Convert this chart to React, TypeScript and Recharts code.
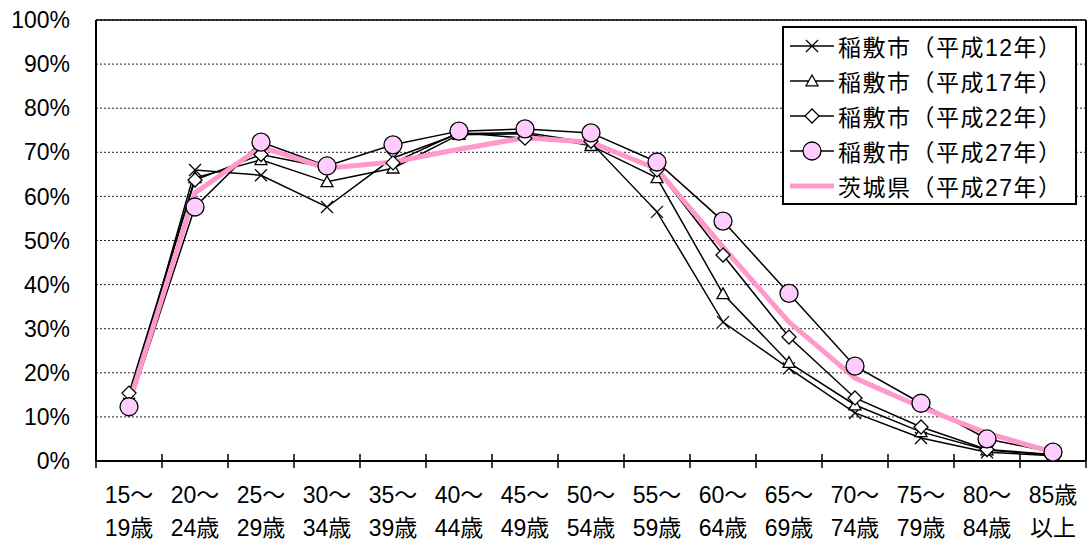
import {
  CartesianGrid,
  Line,
  LineChart,
  ReferenceLine,
  XAxis,
  YAxis,
} from 'recharts';

const tickTop = ['15～', '20～', '25～', '30～', '35～', '40～', '45～', '50～', '55～', '60～', '65～', '70～', '75～', '80～', '85歳'];
const tickBottom = ['19歳', '24歳', '29歳', '34歳', '39歳', '44歳', '49歳', '54歳', '59歳', '64歳', '69歳', '74歳', '79歳', '84歳', '以上'];

const h12 = [13, 66, 64.8, 57.6, 68.7, 74.2, 74.5, 72.2, 56.5, 31.5, 21, 10.9, 5.2, 2, 1.2];
const h17 = [14, 64.2, 68.3, 63.3, 66.4, 74, 74.2, 71.5, 64.2, 37.9, 22.3, 12.7, 6.6, 2.5, 1.3];
const h22 = [15.4, 63.7, 69.5, 66.5, 67.6, 74.5, 73.2, 72.5, 66, 46.7, 28.1, 14.3, 7.7, 2.6, 1.5];
const h27 = [12.3, 57.6, 72.3, 66.9, 71.7, 74.8, 75.3, 74.4, 67.8, 54.4, 38, 21.5, 13.1, 5, 2];
const ibaraki = [13, 60.8, 71.2, 66.4, 67.8, 70.7, 73.3, 72.3, 66.2, 48.5, 31.5, 18.8, 12.2, 6.3, 2];

const yTicks = [0, 10, 20, 30, 40, 50, 60, 70, 80, 90, 100];

const legendItems = [
  { label: '稲敷市（平成12年）', marker: 'cross' },
  { label: '稲敷市（平成17年）', marker: 'triangle' },
  { label: '稲敷市（平成22年）', marker: 'diamond' },
  { label: '稲敷市（平成27年）', marker: 'circle' },
  { label: '茨城県（平成27年）', marker: 'pink' },
];

const data = tickTop.map((_, i) => ({
  x: i + 0.5,
  h12: h12[i],
  h17: h17[i],
  h22: h22[i],
  h27: h27[i],
  ibaraki: ibaraki[i],
}));

const FONT = "'Liberation Sans', Arial, 'Noto Sans CJK JP', sans-serif";
const PINK = '#FF99CC';
const CIRCLE_FILL = '#FFCCFF';
const W = 1091;
const H = 543;
const PLOT_LEFT = 96;
const PLOT_RIGHT = 1086;
const BAND = (PLOT_RIGHT - PLOT_LEFT) / tickTop.length;

const Marker = ({ kind, cx, cy }: { kind: string; cx: number; cy: number }) => {
  if (kind === 'cross') {
    const s = 6;
    return (
      <g>
        <line x1={cx - s} y1={cy - s} x2={cx + s} y2={cy + s} stroke="#000" strokeWidth={1.3} />
        <line x1={cx - s} y1={cy + s} x2={cx + s} y2={cy - s} stroke="#000" strokeWidth={1.3} />
      </g>
    );
  }
  if (kind === 'triangle') {
    const s = 6;
    return (
      <polygon
        points={`${cx},${cy - s} ${cx + s},${cy + s * 0.8} ${cx - s},${cy + s * 0.8}`}
        fill="#fff"
        stroke="#000"
        strokeWidth={1.3}
      />
    );
  }
  if (kind === 'diamond') {
    const s = 7;
    return (
      <polygon
        points={`${cx},${cy - s} ${cx + s},${cy} ${cx},${cy + s} ${cx - s},${cy}`}
        fill="#fff"
        stroke="#000"
        strokeWidth={1.3}
      />
    );
  }
  if (kind === 'circle') {
    return <circle cx={cx} cy={cy} r={9} fill={CIRCLE_FILL} stroke="#000" strokeWidth={1.3} />;
  }
  return null;
};

const dotOf = (kind: string) => (props: any) => {
  const { cx, cy, index } = props;
  if (cx == null || cy == null) return <g key={index} />;
  return (
    <g key={index}>
      <Marker kind={kind} cx={cx} cy={cy} />
    </g>
  );
};

const XTick = (props: any) => {
  const { x, y, index } = props;
  return (
    <g>
      <line x1={x} x2={x} y1={y - 7} y2={y + 7} stroke="#000" strokeWidth={1.5} />
      {index < tickTop.length && (
        <text x={x + BAND / 2} y={y + 42} textAnchor="middle" fontSize={23} fontFamily={FONT} fill="#000">
          {tickTop[index]}
        </text>
      )}
      {index < tickTop.length && (
        <text x={x + BAND / 2} y={y + 75} textAnchor="middle" fontSize={23} fontFamily={FONT} fill="#000">
          {tickBottom[index]}
        </text>
      )}
    </g>
  );
};

const LegendBox = () => (
  <div
    style={{
      position: 'absolute',
      left: 782,
      top: 26,
      width: 291,
      border: '2px solid #000',
      background: '#fff',
      fontFamily: FONT,
      fontSize: 23,
      letterSpacing: 1.5,
      color: '#000',
    }}
  >
    {legendItems.map((item) => (
      <div key={item.label} style={{ height: 35, display: 'flex', alignItems: 'center' }}>
        <svg width={44} height={24} style={{ marginLeft: 6, marginRight: 4 }}>
          {item.marker === 'pink' ? (
            <line x1={1} x2={43} y1={12} y2={12} stroke={PINK} strokeWidth={5} strokeLinecap="round" />
          ) : (
            <line x1={0} x2={44} y1={12} y2={12} stroke="#000" strokeWidth={1.5} />
          )}
          <Marker kind={item.marker} cx={22} cy={12} />
        </svg>
        <span style={{ whiteSpace: 'nowrap' }}>{item.label}</span>
      </div>
    ))}
  </div>
);

export default function App() {
  return (
    <div style={{ position: 'absolute', left: 0, top: 0, width: W, height: H, background: '#fff' }}>
      <LineChart
        width={W}
        height={H}
        data={data}
        margin={{ top: 20, right: W - PLOT_RIGHT, bottom: 0, left: 0 }}
      >
        <CartesianGrid stroke="#222" strokeDasharray="2 2" vertical={false} />
        <XAxis
          dataKey="x"
          type="number"
          domain={[0, tickTop.length]}
          ticks={tickTop.map((_, i) => i).concat([tickTop.length])}
          interval={0}
          height={82}
          axisLine={{ stroke: '#000', strokeWidth: 2 }}
          tickLine={false}
          tickSize={0}
          tickMargin={0}
          tick={<XTick />}
        />
        <YAxis
          type="number"
          domain={[0, 100]}
          ticks={yTicks}
          width={PLOT_LEFT}
          axisLine={{ stroke: '#000', strokeWidth: 2 }}
          tickLine={false}
          tickSize={0}
          tickMargin={26}
          tickFormatter={(v) => `${v}%`}
          tick={{ fill: '#000', fontSize: 23, fontFamily: FONT }}
        />
        <ReferenceLine y={100} stroke="#000" strokeWidth={1.5} />
        <ReferenceLine x={tickTop.length} stroke="#000" strokeWidth={2} />
        <Line dataKey="h12" stroke="#000" strokeWidth={1.5} dot={dotOf('cross')} isAnimationActive={false} />
        <Line dataKey="h17" stroke="#000" strokeWidth={1.5} dot={dotOf('triangle')} isAnimationActive={false} />
        <Line dataKey="h22" stroke="#000" strokeWidth={1.5} dot={dotOf('diamond')} isAnimationActive={false} />
        <Line dataKey="h27" stroke="#000" strokeWidth={1.5} dot={dotOf('circle')} isAnimationActive={false} />
        <Line dataKey="ibaraki" stroke={PINK} strokeWidth={5} dot={false} isAnimationActive={false} />
      </LineChart>
      <LegendBox />
    </div>
  );
}
